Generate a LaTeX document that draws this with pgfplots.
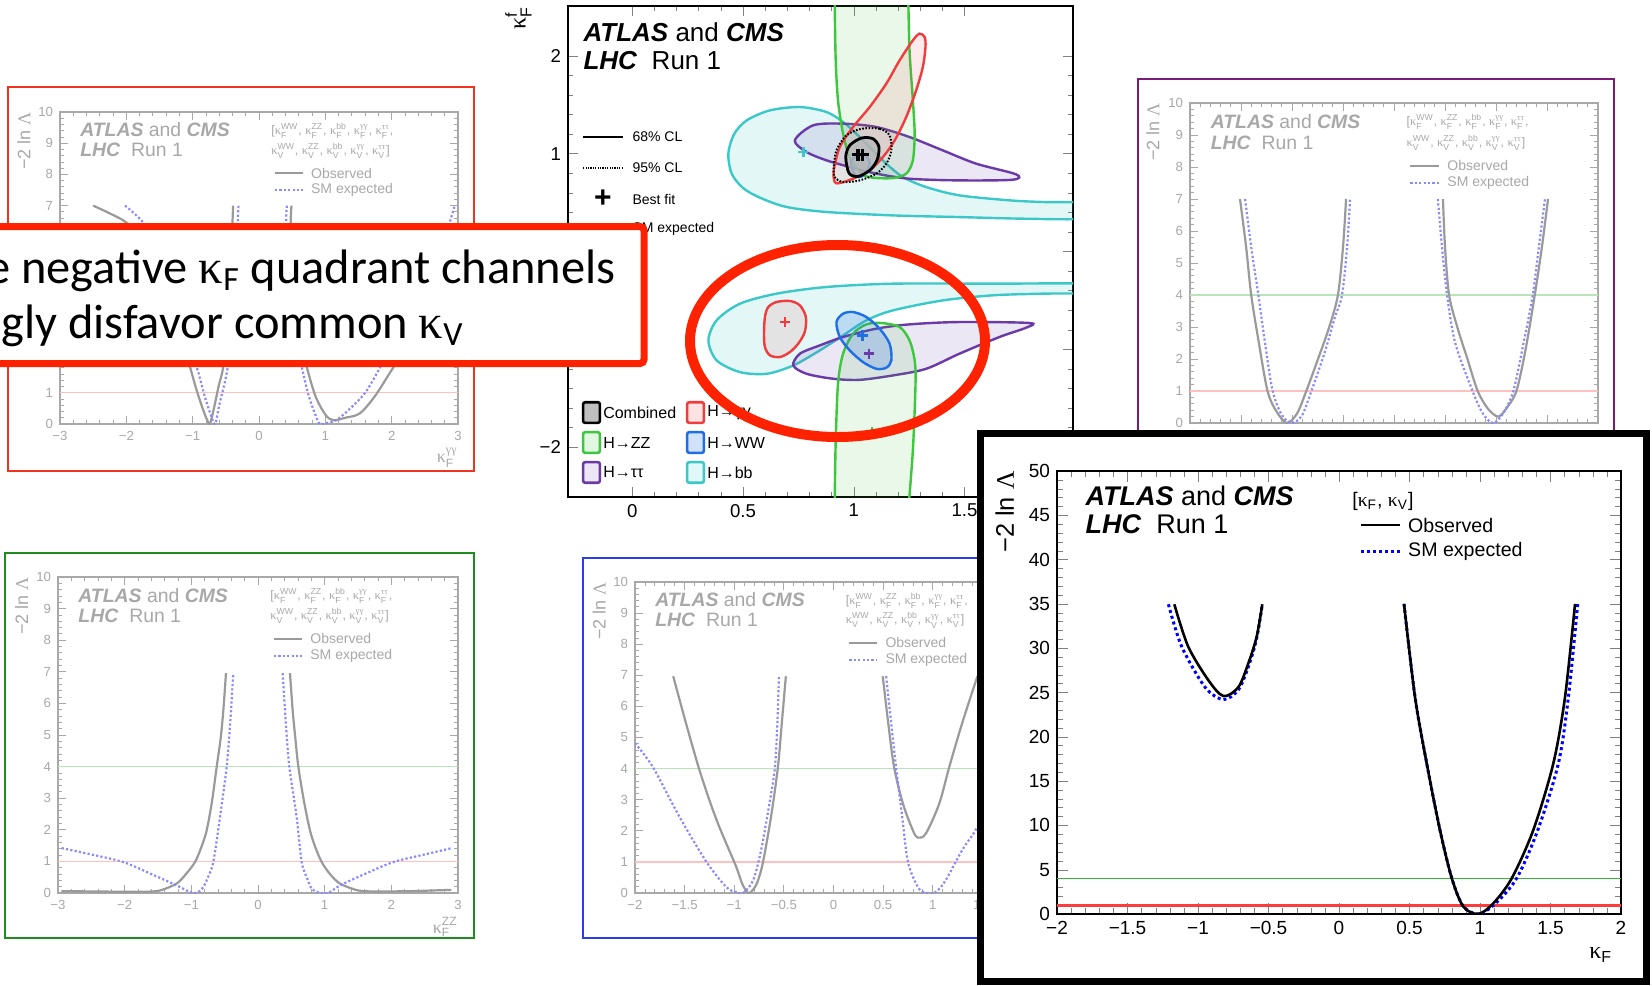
\documentclass[border=0pt]{standalone}
\usepackage{amsmath}
\usepackage{fontspec}
\setmainfont{Liberation Sans}
\newfontfamily\grk{Liberation Serif}
\newfontfamily\callfont{Carlito}
\usepackage{pgfplots}
\pgfplotsset{compat=1.18}

\definecolor{fgray}{HTML}{A8A8A8}
\definecolor{cgray}{HTML}{9A9A9A}
\definecolor{lblue}{HTML}{8A8AFF}
\definecolor{lred}{HTML}{FFC0C0}
\definecolor{lgreen}{HTML}{B8E4B8}
\definecolor{slred}{HTML}{FF2200}
\definecolor{rframe}{HTML}{F0321E}
\definecolor{pframe}{HTML}{7A1A7A}
\definecolor{gframe}{HTML}{1E8C1E}
\definecolor{bframe}{HTML}{2A3CF0}
\definecolor{ccyan}{HTML}{3CC8C8}
\definecolor{cpurp}{HTML}{6A3AA8}
\definecolor{cgreen}{HTML}{3CC83C}
\definecolor{cred}{HTML}{F03C3C}
\definecolor{cblue}{HTML}{1E6EE6}

\newcommand{\kap}[2]{$\text{\grk κ}^{\text{#2}}_{\text{#1}}$}

\pgfplotsset{
  /pgf/number format/assume math mode=true,
  smallp/.style={
    scale only axis, anchor=north west,
    axis line style={draw=fgray, line width=0.6pt},
    tick style={draw=fgray, line width=0.4pt},
    tick align=inside, tick pos=both,
    major tick length=4pt, minor tick length=2pt,
    tick label style={text=fgray, font=\fontsize{6.6}{7}\selectfont},
    ymin=0, ymax=10, ytick={0,1,...,10}, minor y tick num=4,
    minor x tick num=4,
    ylabel={−2 ln {\grk Λ}},
    ylabel style={at={(rel axis cs:-0.108,1)}, anchor=north east, text=fgray, font=\fontsize{9}{10}\selectfont, inner sep=0pt},
    xlabel style={at={(rel axis cs:1,-0.075)}, anchor=north east, text=fgray, font=\fontsize{9}{10}\selectfont, inner sep=0pt},
  },
  obs/.style={cgray, line width=1.1pt, smooth, no markers},
  exq/.style={lblue, line width=1.1pt, dash pattern=on 1.1pt off 1.1pt, smooth, no markers},
}

\newcommand{\smalldeco}{%
  \node[anchor=base west, text=fgray, font=\fontsize{9.7}{10}\selectfont, inner sep=0pt] at (rel axis cs:0.05,0.92) {\textbf{\textit{ATLAS}} and \textbf{\textit{CMS}}};
  \node[anchor=base west, text=fgray, font=\fontsize{9.7}{10}\selectfont, inner sep=0pt] at (rel axis cs:0.05,0.856) {\textbf{\textit{LHC}}\ \ Run 1};
  \node[anchor=base west, text=fgray, font=\fontsize{6.2}{7}\selectfont, inner sep=0pt] at (rel axis cs:0.53,0.929) {[\kap{F}{WW}, \kap{F}{ZZ}, \kap{F}{bb}, \kap{F}{\grk γγ}, \kap{F}{\grk ττ},};
  \node[anchor=base west, text=fgray, font=\fontsize{6.2}{7}\selectfont, inner sep=0pt] at (rel axis cs:0.53,0.865) {\kap{V}{WW}, \kap{V}{ZZ}, \kap{V}{bb}, \kap{V}{\grk γγ}, \kap{V}{\grk ττ}]};
  \draw[cgray, line width=1.1pt] (rel axis cs:0.54,0.804) -- (rel axis cs:0.61,0.804);
  \node[anchor=west, text=fgray, font=\fontsize{7}{8}\selectfont, inner sep=0pt] at (rel axis cs:0.63,0.804) {Observed};
  \draw[lblue, line width=1.1pt, dash pattern=on 1.1pt off 1.1pt] (rel axis cs:0.54,0.75) -- (rel axis cs:0.61,0.75);
  \node[anchor=west, text=fgray, font=\fontsize{7}{8}\selectfont, inner sep=0pt] at (rel axis cs:0.63,0.75) {SM expected};
}

\begin{document}
\begin{tikzpicture}
\path[use as bounding box] (0pt,0pt) rectangle (826pt,-492.5pt);
\clip (0pt,0pt) rectangle (826pt,-492.5pt);
\fill[white] (0pt,0pt) rectangle (826pt,-492.5pt);

% ---------- top-left (gamma gamma) ----------
\draw[rframe, line width=0.9pt] (4pt,-43.5pt) rectangle (237pt,-235.5pt);
\begin{axis}[smallp, at={(30pt,-56pt)}, width=199pt, height=156pt,
  xmin=-3, xmax=3, xtick={-3,...,3}, xticklabels={−3,−2,−1,0,1,2,3},
  xlabel={\kap{F}{\grk γγ}}]
\addplot[lred, line width=0.6pt] coordinates {(-3,1) (3,1)};
\addplot[lgreen, line width=0.6pt] coordinates {(-3,4) (3,4)};
\addplot[obs] coordinates {(-2.50,7.0) (-2.25,6.75) (-1.99,6.44) (-1.75,5.8) (-1.5,4.8) (-1.3,3.6) (-1.15,2.6) (-1.04,1.83) (-0.95,1.15) (-0.85,0.5) (-0.78,0.12) (-0.74,0) (-0.68,0.5) (-0.61,1.2) (-0.54,1.83) (-0.48,3.2) (-0.43,5.0) (-0.39,7.0)};
\addplot[exq] coordinates {(-2.02,7.0) (-1.74,6.44) (-1.55,5.6) (-1.35,4.4) (-1.15,3.0) (-0.94,1.83) (-0.82,0.9) (-0.72,0.25) (-0.66,0) (-0.6,0.6) (-0.47,1.83) (-0.39,3.6) (-0.34,5.4) (-0.31,7.0)};
\addplot[obs] coordinates {(0.49,7.0) (0.48,6.44) (0.52,5.0) (0.58,3.6) (0.64,2.6) (0.72,1.83) (0.85,0.9) (1.0,0.3) (1.12,0.12) (1.3,0.2) (1.52,0.34) (1.75,0.9) (2.03,1.83) (2.4,3.0) (2.7,4.0) (3.0,5.0)};
\addplot[exq] coordinates {(0.42,7.0) (0.41,6.44) (0.45,5.0) (0.52,3.6) (0.58,2.6) (0.645,1.83) (0.75,0.9) (0.85,0.3) (0.92,0) (1.05,0.05) (1.17,0.13) (1.35,0.45) (1.6,1.0) (1.83,1.83) (2.2,3.3) (2.5,4.6) (2.8,6.0) (2.95,7.0)};
\smalldeco
\end{axis}

% ---------- bottom-left (ZZ) ----------
\draw[gframe, line width=0.9pt] (2.5pt,-276.5pt) rectangle (237pt,-469pt);
\begin{axis}[smallp, at={(29pt,-288.5pt)}, width=200pt, height=158pt,
  xmin=-3, xmax=3, xtick={-3,...,3}, xticklabels={−3,−2,−1,0,1,2,3},
  xlabel={\kap{F}{ZZ}}]
\addplot[lred, line width=0.6pt] coordinates {(-3,1) (3,1)};
\addplot[lgreen, line width=0.6pt] coordinates {(-3,4) (3,4)};
\addplot[obs] coordinates {(-2.95,0.06) (-2.5,0.05) (-2.0,0.04) (-1.7,0.04) (-1.47,0.08) (-1.22,0.3) (-1.08,0.6) (-0.945,0.98) (-0.85,1.45) (-0.77,1.98) (-0.69,2.9) (-0.62,3.99) (-0.56,4.9) (-0.52,5.78) (-0.48,6.96)};
\addplot[obs] coordinates {(0.48,6.96) (0.52,5.78) (0.56,4.9) (0.605,4.0) (0.69,2.9) (0.78,1.98) (0.86,1.45) (0.955,0.98) (1.08,0.6) (1.23,0.3) (1.505,0.08) (1.8,0.05) (2.3,0.06) (2.9,0.1)};
\addplot[exq] coordinates {(-2.945,1.42) (-2.5,1.22) (-2.02,0.98) (-1.6,0.6) (-1.22,0.24) (-1.02,0.03) (-0.92,0) (-0.82,0.19) (-0.74,0.55) (-0.67,0.98) (-0.57,2.4) (-0.47,4.0) (-0.42,5.3) (-0.37,6.96)};
\addplot[exq] coordinates {(0.37,6.96) (0.42,5.3) (0.47,4.0) (0.58,2.4) (0.655,0.98) (0.74,0.45) (0.805,0.14) (0.93,0) (1.055,0) (1.23,0.24) (1.6,0.6) (2.03,0.98) (2.5,1.22) (2.905,1.42)};
\smalldeco
\end{axis}

% ---------- bottom-centre (WW) ----------
\draw[bframe, line width=0.9pt] (291.5pt,-279pt) rectangle (560pt,-469pt);
\begin{axis}[smallp, at={(317.5pt,-291pt)}, width=198.5pt, height=155.5pt,
  xmin=-2, xmax=2, xtick={-2,-1.5,...,2}, xticklabels={−2,−1.5,−1,−0.5,0,0.5,1,1.5,2}]
\addplot[lred, line width=0.6pt] coordinates {(-2,1) (2,1)};
\addplot[lgreen, line width=0.6pt] coordinates {(-2,4) (2,4)};
\addplot[obs] coordinates {(-1.615,6.97) (-1.49,5.5) (-1.36,4.05) (-1.25,2.98) (-1.16,2.2) (-1.08,1.59) (-0.98,0.84) (-0.92,0.3) (-0.86,0) (-0.80,0.15) (-0.76,0.41) (-0.71,1.0) (-0.63,2.44) (-0.56,4.05) (-0.52,5.5) (-0.48,6.97)};
\addplot[exq] coordinates {(-2,4.82) (-1.82,4.05) (-1.55,2.44) (-1.28,1.0) (-1.08,0.19) (-0.98,0.03) (-0.91,0) (-0.81,0.41) (-0.73,1.37) (-0.64,2.98) (-0.59,4.05) (-0.565,5.5) (-0.55,6.97)};
\addplot[obs] coordinates {(0.496,6.97) (0.55,5.5) (0.61,4.05) (0.70,2.87) (0.80,2.01) (0.85,1.78) (0.93,1.91) (1.065,2.87) (1.166,4.05) (1.30,5.5) (1.45,6.97)};
\addplot[exq] coordinates {(0.53,6.97) (0.58,5.5) (0.63,4.05) (0.69,2.5) (0.75,1.0) (0.85,0.19) (0.93,0) (1.03,0.03) (1.13,0.41) (1.30,1.4) (1.43,2.01) (1.6,3.0) (1.8,4.3) (2.0,5.5)};
\smalldeco
\end{axis}

% ---------- top-right (purple) ----------
\draw[pframe, line width=0.9pt] (569pt,-39.5pt) rectangle (807pt,-232pt);
\begin{axis}[smallp, at={(595pt,-51.5pt)}, width=204pt, height=160pt,
  xmin=-2, xmax=2, xtick={-2,-1.5,...,2}, xticklabels={−2,−1.5,−1,−0.5,0,0.5,1,1.5,2}]
\addplot[lred, line width=0.6pt] coordinates {(-2,1) (2,1)};
\addplot[lgreen, line width=0.6pt] coordinates {(-2,4) (2,4)};
\addplot[obs] coordinates {(-1.51,7) (-1.45,5.5) (-1.40,4) (-1.33,2.6) (-1.24,1) (-1.15,0.35) (-1.05,0) (-0.95,0.3) (-0.86,1) (-0.745,2) (-0.635,3) (-0.55,4) (-0.50,5.5) (-0.47,7)};
\addplot[exq] coordinates {(-1.46,7) (-1.40,5.5) (-1.33,4) (-1.26,2.4) (-1.19,1) (-1.1,0.25) (-1.0,0) (-0.9,0.25) (-0.81,1) (-0.68,2.2) (-0.58,3.3) (-0.51,4) (-0.46,5.5) (-0.43,7)};
\addplot[obs] coordinates {(0.48,7) (0.50,5.5) (0.54,4) (0.62,3) (0.72,2) (0.82,1) (0.92,0.45) (1.02,0.2) (1.10,0.45) (1.20,1) (1.29,2.3) (1.38,4) (1.45,5.5) (1.51,7)};
\addplot[exq] coordinates {(0.43,7) (0.47,5.5) (0.52,4) (0.60,2.5) (0.77,1) (0.87,0.3) (0.97,0) (1.07,0.3) (1.17,1) (1.27,2.5) (1.36,4) (1.42,5.5) (1.48,7)};
\smalldeco
\end{axis}

% ---------- centre 2D ----------
\begin{axis}[scale only axis, anchor=north west, at={(284pt,-3pt)}, width=252.5pt, height=245.5pt,
  xmin=-0.29, xmax=1.99, ymin=-2.51, ymax=2.51,
  xtick={0,0.5,1,1.5}, xticklabels={0,0.5,1,1.5},
  ytick={-2,-1,0,1,2}, yticklabels={−2,−1,0,1,2},
  minor x tick num=4, minor y tick num=4,
  tick align=inside, tick pos=both, major tick length=5pt, minor tick length=2.5pt,
  axis line style={line width=0.6pt},
  tick label style={font=\fontsize{9.3}{10}\selectfont},
  ylabel={$\text{\grk κ}^{\text{f}}_{\text{F}}$},
  ylabel style={at={(rel axis cs:-0.125,1)}, anchor=north east, font=\fontsize{12}{13}\selectfont, inner sep=0pt}]
% upper region
\addplot[smooth cycle, draw=ccyan, line width=1.2pt, fill=ccyan, fill opacity=0.14] coordinates {(0.434,1.0) (0.46,1.2) (0.517,1.341) (0.622,1.443) (0.757,1.477) (0.877,1.426) (0.952,1.324) (1.012,1.204) (1.072,1.068) (1.147,0.898) (1.222,0.761) (1.327,0.659) (1.477,0.574) (1.703,0.523) (1.853,0.506) (2.05,0.496) (2.15,0.42) (2.05,0.335) (1.778,0.335) (1.477,0.352) (1.177,0.369) (0.877,0.404) (0.697,0.455) (0.577,0.55) (0.5,0.65) (0.449,0.796)};
\addplot[smooth cycle, draw=cpurp, line width=1.2pt, fill=cpurp, fill opacity=0.12] coordinates {(0.734,1.136) (0.817,1.290) (0.952,1.307) (1.102,1.273) (1.252,1.170) (1.402,1.034) (1.553,0.898) (1.733,0.789) (1.718,0.734) (1.477,0.727) (1.252,0.744) (1.102,0.796) (0.982,0.864) (0.877,0.932) (0.787,1.017)};
\addplot[smooth cycle, draw=cgreen, line width=1.2pt, fill=cgreen, fill opacity=0.11] coordinates {(0.914,2.7) (0.918,2.0) (0.929,1.545) (0.952,1.204) (0.982,0.966) (1.035,0.796) (1.087,0.755) (1.177,0.751) (1.237,0.796) (1.267,0.932) (1.275,1.204) (1.267,1.545) (1.252,2.057) (1.245,2.7) (1.24,3.0) (0.92,3.0)};
\addplot[smooth cycle, draw=cred, line width=1.2pt, fill=cred, fill opacity=0.10] coordinates {(0.914,0.710) (0.910,0.830) (0.937,1.068) (0.997,1.273) (1.072,1.477) (1.147,1.716) (1.207,1.954) (1.267,2.159) (1.297,2.227) (1.320,2.193) (1.324,2.091) (1.312,1.886) (1.282,1.648) (1.237,1.375) (1.185,1.136) (1.132,0.966) (1.072,0.830) (0.997,0.744) (0.937,0.700)};
\addplot[smooth cycle, draw=black, line width=1pt, dash pattern=on 0.8pt off 0.8pt] coordinates {(1.035,1.255) (1.117,1.255) (1.162,1.187) (1.170,1.034) (1.147,0.898) (1.102,0.796) (1.027,0.727) (0.952,0.710) (0.914,0.761) (0.910,0.864) (0.922,1.034) (0.967,1.187)};
\addplot[smooth cycle, draw=cblue, line width=1.2pt, fill=cblue, fill opacity=0.2] coordinates {(0.989,0.932) (0.997,0.813) (1.024,0.761) (1.054,0.802) (1.072,0.898) (1.057,0.973) (1.027,0.983)};
\addplot[smooth cycle, draw=black, line width=1.4pt, fill=gray!55, fill opacity=0.8] coordinates {(1.035,1.160) (1.087,1.153) (1.114,1.068) (1.105,0.932) (1.072,0.830) (1.020,0.768) (0.979,0.800) (0.964,0.966) (0.982,1.085)};
% lower region
\addplot[smooth cycle, draw=ccyan, line width=1.2pt, fill=ccyan, fill opacity=0.14] coordinates {(2.05,-0.329) (1.628,-0.329) (1.177,-0.329) (0.877,-0.363) (0.652,-0.431) (0.486,-0.534) (0.381,-0.704) (0.344,-0.909) (0.381,-1.113) (0.486,-1.233) (0.607,-1.250) (0.727,-1.165) (0.847,-1.011) (0.952,-0.858) (1.057,-0.704) (1.177,-0.602) (1.402,-0.500) (1.628,-0.448) (1.853,-0.431) (2.05,-0.425) (2.15,-0.38)};
\addplot[smooth cycle, draw=cpurp, line width=1.2pt, fill=cpurp, fill opacity=0.12] coordinates {(0.727,-1.165) (0.757,-1.045) (0.847,-0.960) (0.952,-0.874) (1.102,-0.789) (1.252,-0.745) (1.477,-0.721) (1.793,-0.731) (1.778,-0.779) (1.658,-0.874) (1.477,-1.045) (1.327,-1.199) (1.177,-1.267) (1.027,-1.312) (0.907,-1.301) (0.787,-1.250)};
\addplot[smooth cycle, draw=cred, line width=1.2pt, fill=cred, fill opacity=0.10] coordinates {(0.599,-0.670) (0.614,-0.568) (0.652,-0.516) (0.712,-0.506) (0.757,-0.551) (0.784,-0.670) (0.779,-0.823) (0.749,-0.943) (0.712,-1.028) (0.667,-1.079) (0.622,-1.062) (0.599,-0.977) (0.595,-0.840)};
\addplot[smooth cycle, draw=cgreen, line width=1.2pt, fill=cgreen, fill opacity=0.11] coordinates {(0.914,-2.7) (0.918,-2.0) (0.929,-1.352) (0.952,-1.045) (0.997,-0.840) (1.057,-0.745) (1.125,-0.731) (1.207,-0.772) (1.252,-0.909) (1.275,-1.113) (1.279,-1.352) (1.267,-2.033) (1.245,-2.7) (1.24,-3.0) (0.92,-3.0)};
\addplot[smooth cycle, draw=cblue, line width=1.2pt, fill=cblue, fill opacity=0.2] coordinates {(0.922,-0.721) (0.952,-0.636) (0.997,-0.619) (1.057,-0.670) (1.117,-0.789) (1.162,-0.943) (1.170,-1.113) (1.147,-1.188) (1.102,-1.199) (1.042,-1.131) (0.982,-1.011) (0.937,-0.874)};
% best-fit markers
\addplot[only marks, mark=+, mark size=3pt, line width=1.8pt, black] coordinates {(1.02,0.99) (1.04,0.99)};
\addplot[only marks, mark=+, mark size=2.6pt, line width=1.3pt, ccyan] coordinates {(0.772,1.017)};
\addplot[only marks, mark=+, mark size=2.6pt, line width=1.3pt, cred] coordinates {(0.689,-0.721)};
\addplot[only marks, mark=+, mark size=2.6pt, line width=1.3pt, cblue] coordinates {(1.039,-0.858)};
\addplot[only marks, mark=+, mark size=2.6pt, line width=1.3pt, cpurp] coordinates {(1.069,-1.045)};
\addplot[only marks, mark=|, mark size=2pt, line width=0.9pt, cgreen] coordinates {(1.084,-1.84)};
% text and legends
\node[anchor=base west, font=\fontsize{13}{14}\selectfont, inner sep=0pt] at (rel axis cs:0.03,0.927) {\textbf{\textit{ATLAS}} and \textbf{\textit{CMS}}};
\node[anchor=base west, font=\fontsize{13}{14}\selectfont, inner sep=0pt] at (rel axis cs:0.03,0.870) {\textbf{\textit{LHC}}\ \ Run 1};
\draw[black, line width=1pt] (rel axis cs:0.03,0.733) -- (rel axis cs:0.109,0.733);
\node[anchor=west, font=\fontsize{7}{8}\selectfont, inner sep=0pt] at (rel axis cs:0.127,0.733) {68\% CL};
\draw[black, line width=1pt, dash pattern=on 0.6pt off 0.6pt] (rel axis cs:0.03,0.670) -- (rel axis cs:0.109,0.670);
\node[anchor=west, font=\fontsize{7}{8}\selectfont, inner sep=0pt] at (rel axis cs:0.127,0.670) {95\% CL};
\node[font=\fontsize{15}{15}\selectfont\bfseries, inner sep=0pt] at (rel axis cs:0.069,0.607) {+};
\node[anchor=west, font=\fontsize{7}{8}\selectfont, inner sep=0pt] at (rel axis cs:0.127,0.605) {Best fit};
\node[anchor=west, font=\fontsize{7}{8}\selectfont, inner sep=0pt] at (rel axis cs:0.127,0.547) {SM expected};
\draw[rounded corners=1pt, line width=1.3pt, draw=black, fill=gray!50] (rel axis cs:0.030,0.151) rectangle (rel axis cs:0.063,0.193);
\node[anchor=west, font=\fontsize{8}{9}\selectfont, inner sep=0pt] at (rel axis cs:0.069,0.172) {Combined};
\draw[rounded corners=1pt, line width=1.3pt, draw=cred, fill=cred!15] (rel axis cs:0.236,0.151) rectangle (rel axis cs:0.269,0.193);
\node[anchor=west, font=\fontsize{8}{9}\selectfont, inner sep=0pt] at (rel axis cs:0.275,0.172) {H→γγ};
\draw[rounded corners=1pt, line width=1.3pt, draw=cgreen, fill=cgreen!15] (rel axis cs:0.030,0.090) rectangle (rel axis cs:0.063,0.132);
\node[anchor=west, font=\fontsize{8}{9}\selectfont, inner sep=0pt] at (rel axis cs:0.069,0.111) {H→ZZ};
\draw[rounded corners=1pt, line width=1.3pt, draw=cblue, fill=cblue!20] (rel axis cs:0.236,0.090) rectangle (rel axis cs:0.269,0.132);
\node[anchor=west, font=\fontsize{8}{9}\selectfont, inner sep=0pt] at (rel axis cs:0.275,0.111) {H→WW};
\draw[rounded corners=1pt, line width=1.3pt, draw=cpurp, fill=cpurp!12] (rel axis cs:0.030,0.029) rectangle (rel axis cs:0.063,0.071);
\node[anchor=west, font=\fontsize{8}{9}\selectfont, inner sep=0pt] at (rel axis cs:0.069,0.050) {H→ττ};
\draw[rounded corners=1pt, line width=1.3pt, draw=ccyan, fill=ccyan!15] (rel axis cs:0.236,0.029) rectangle (rel axis cs:0.269,0.071);
\node[anchor=west, font=\fontsize{8}{9}\selectfont, inner sep=0pt] at (rel axis cs:0.275,0.050) {H→bb};
\end{axis}

% ---------- callout ----------
\draw[slred, line width=3.5pt, fill=white, rounded corners=2pt] (-10pt,-113.25pt) rectangle (322pt,-181.75pt);
\node[anchor=base east, font=\callfont\fontsize{24.2}{26}\selectfont, inner sep=0pt] at (308pt,-141.5pt) {The negative {\grk κ}\textsubscript{F} quadrant channels};
\node[anchor=base east, font=\callfont\fontsize{24.2}{26}\selectfont, inner sep=0pt] at (232pt,-169pt) {strongly disfavor common {\grk κ}\textsubscript{V}};

% ---------- red ellipse ----------
\draw[slred, line width=5pt] (418.75pt,-170.5pt) ellipse [x radius=73.75pt, y radius=48pt];

% ---------- big panel ----------
\draw[black, line width=3.5pt, fill=white] (490.25pt,-216.75pt) rectangle (823.25pt,-490.75pt);
\begin{axis}[scale only axis, anchor=north west, at={(528.5pt,-235.5pt)}, width=282pt, height=221.5pt,
  xmin=-2, xmax=2, ymin=0, ymax=50,
  xtick={-2,-1.5,...,2}, xticklabels={−2,−1.5,−1,−0.5,0,0.5,1,1.5,2},
  ytick={0,5,...,50},
  minor x tick num=4, minor y tick num=4,
  tick align=inside, tick pos=both, major tick length=5.5pt, minor tick length=2.8pt,
  axis line style={line width=0.8pt},
  tick label style={font=\fontsize{9.5}{10}\selectfont},
  ylabel={−2 ln {\grk Λ}},
  ylabel style={at={(rel axis cs:-0.11,1)}, anchor=north east, font=\fontsize{12.7}{13}\selectfont, inner sep=0pt},
  xlabel={$\text{\grk κ}_{\text{F}}$},
  xlabel style={at={(rel axis cs:0.985,-0.075)}, anchor=north east, font=\fontsize{12}{13}\selectfont, inner sep=0pt}]
\addplot[color={rgb,255:red,255;green,60;blue,60}, line width=1.4pt] coordinates {(-2,1) (2,1)};
\addplot[color={rgb,255:red,50;green,185;blue,50}, line width=0.5pt] coordinates {(-2,4) (2,4)};
\addplot[blue, line width=1.5pt, dash pattern=on 1.5pt off 1.5pt, smooth] coordinates {(-1.21,34.96) (-1.116,30.2) (-0.95,25.6) (-0.82,24.2) (-0.714,25.3) (-0.643,27.9) (-0.584,31.1) (-0.544,34.96)};
\addplot[black, line width=1.3pt, smooth] coordinates {(-1.168,34.96) (-1.07,30.2) (-0.927,26.4) (-0.82,24.6) (-0.714,25.6) (-0.643,28.3) (-0.584,31.3) (-0.544,34.96)};
\addplot[blue, line width=1.5pt, dash pattern=on 1.5pt off 1.5pt, smooth] coordinates {(0.461,35) (0.539,24.5) (0.622,17.0) (0.716,9.48) (0.80,4.03) (0.88,0.9) (0.99,0) (1.11,1.2) (1.26,4.03) (1.41,9.48) (1.556,17.0) (1.627,24.5) (1.693,35)};
\addplot[black, line width=1.3pt, smooth] coordinates {(0.461,35) (0.539,24.5) (0.622,17.0) (0.716,9.48) (0.80,4.03) (0.882,0.83) (0.988,0) (1.094,1.2) (1.225,4.03) (1.378,9.48) (1.52,17.0) (1.603,24.5) (1.674,35)};
\node[anchor=base west, font=\fontsize{13.5}{14}\selectfont, inner sep=0pt] at (rel axis cs:0.05,0.923) {\textbf{\textit{ATLAS}} and \textbf{\textit{CMS}}};
\node[anchor=base west, font=\fontsize{13.5}{14}\selectfont, inner sep=0pt] at (rel axis cs:0.05,0.858) {\textbf{\textit{LHC}}\ \ Run 1};
\node[anchor=base west, font=\fontsize{9.8}{11}\selectfont, inner sep=0pt] at (rel axis cs:0.523,0.919) {[$\text{\grk κ}_{\text{F}}$, $\text{\grk κ}_{\text{V}}$]};
\draw[black, line width=1.3pt] (rel axis cs:0.539,0.878) -- (rel axis cs:0.608,0.878);
\node[anchor=west, font=\fontsize{9.8}{11}\selectfont, inner sep=0pt] at (rel axis cs:0.622,0.878) {Observed};
\draw[blue, line width=1.5pt, dash pattern=on 1.5pt off 1.5pt] (rel axis cs:0.539,0.819) -- (rel axis cs:0.608,0.819);
\node[anchor=west, font=\fontsize{9.8}{11}\selectfont, inner sep=0pt] at (rel axis cs:0.622,0.819) {SM expected};
\end{axis}
\end{tikzpicture}
\end{document}
